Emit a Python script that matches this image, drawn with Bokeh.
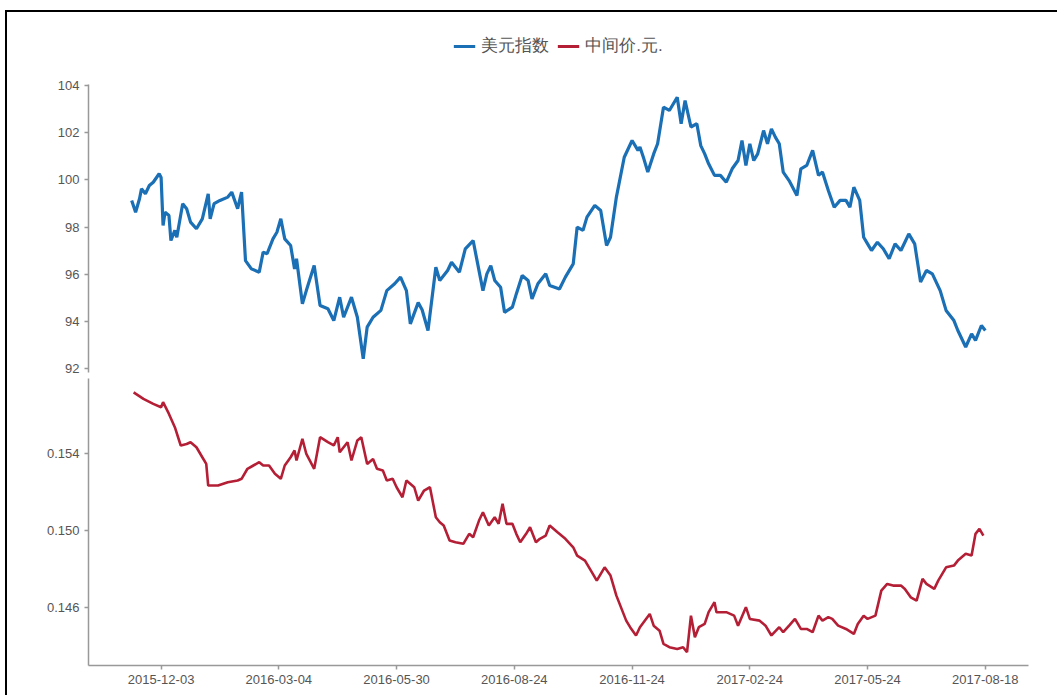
from bokeh.plotting import figure
from bokeh.models import (FixedTicker, Legend, LegendItem, NumeralTickFormatter, Range1d)
from bokeh.layouts import column
from bokeh.embed import file_html
from bokeh.resources import INLINE

# x = trading-day index; tick labels every 60 trading days
tick_idx = [15, 75, 135, 195, 255, 315, 375, 435]
tick_labels = ["2015-12-03", "2016-03-04", "2016-05-30", "2016-08-24",
               "2016-11-24", "2017-02-24", "2017-05-24", "2017-08-18"]

usd_idx = [0, 2, 4, 5, 7, 9, 11, 14, 15, 16, 17, 19, 20, 22, 23, 26, 28, 30, 33, 36,
           39, 40, 42, 45, 49, 51, 54, 56, 58, 61, 65, 67, 69, 72, 74, 76, 78, 81, 83, 84,
           87, 89, 93, 96, 100, 103, 106, 108, 112, 115, 118, 120, 123, 127, 130, 134, 137, 140, 142, 146,
           148, 151, 155, 157, 161, 163, 167, 170, 174, 176, 179, 181, 183, 185, 188, 190, 194, 196, 199, 202,
           204, 207, 211, 213, 218, 221, 225, 227, 230, 232, 236, 239, 242, 244, 247, 251, 255, 258, 259, 261,
           263, 266, 268, 271, 274, 278, 280, 282, 285, 288, 290, 292, 294, 297, 300, 303, 306, 309, 311, 313,
           315, 317, 319, 322, 324, 326, 328, 330, 332, 335, 339, 341, 344, 347, 350, 352, 355, 358, 361, 364,
           366, 368, 371, 373, 375, 377, 380, 383, 386, 389, 392, 394, 396, 399, 402, 405, 408, 412, 415, 419,
           421, 425, 428, 430, 433, 435]
usd_val = [99.13, 98.63, 99.2, 99.62, 99.41, 99.76, 99.9, 100.26, 100.1, 98.07, 98.63, 98.49, 97.43, 97.86, 97.57, 98.99, 98.78, 98.21, 97.93, 98.35,
           99.41, 98.35, 98.99, 99.13, 99.27, 99.48, 98.78, 99.48, 96.58, 96.23, 96.09, 96.94, 96.87, 97.5, 97.78, 98.35, 97.5, 97.22, 96.23, 96.66,
           94.75, 95.31, 96.37, 94.68, 94.54, 94.04, 95.03, 94.18, 95.03, 94.18, 92.42, 93.76, 94.18, 94.47, 95.31, 95.6, 95.88, 95.31, 93.9, 94.8,
           94.5, 93.62, 96.3, 95.74, 96.16, 96.51, 96.09, 97.08, 97.43, 96.58, 95.31, 96.02, 96.37, 95.74, 95.45, 94.39, 94.61, 95.17, 95.95, 95.74,
           94.96, 95.6, 96.02, 95.53, 95.38, 95.88, 96.44, 98.0, 97.86, 98.42, 98.92, 98.7, 97.22, 97.57, 99.27, 100.96, 101.67, 101.25, 101.39, 100.89,
           100.33, 101.1, 101.53, 103.08, 102.94, 103.5, 102.38, 103.36, 102.24, 102.38, 101.45, 101.1, 100.68, 100.19, 100.19, 99.9, 100.47, 100.82, 101.67, 100.61,
           101.53, 100.82, 101.1, 102.09, 101.53, 102.16, 101.81, 101.53, 100.33, 99.97, 99.34, 100.47, 100.61, 101.25, 100.19, 100.33, 99.55, 98.84, 99.13, 99.13,
           98.84, 99.69, 99.13, 97.57, 97.29, 97.01, 97.36, 97.08, 96.66, 97.29, 97.01, 97.36, 97.71, 97.29, 95.67, 96.16, 96.02, 95.31, 94.47, 94.04,
           93.62, 92.92, 93.48, 93.2, 93.83, 93.62]

cny_idx = [1, 6, 11, 15, 16, 19, 22, 25, 28, 30, 33, 36, 38, 39, 44, 49, 54, 56, 59, 62,
           65, 67, 70, 73, 76, 78, 81, 83, 84, 87, 89, 93, 96, 100, 103, 105, 106, 110, 112, 115,
           117, 120, 123, 125, 128, 130, 133, 135, 138, 140, 144, 146, 149, 152, 155, 157, 159, 162, 165, 169,
           172, 174, 177, 179, 182, 185, 187, 189, 191, 194, 196, 198, 201, 203, 206, 208, 211, 213, 217, 221,
           225, 227, 231, 235, 237, 241, 244, 247, 252, 254, 257, 259, 264, 266, 269, 271, 274, 278, 281, 283,
           285, 287, 289, 292, 294, 297, 298, 303, 307, 309, 313, 315, 320, 323, 326, 330, 332, 335, 338, 341,
           344, 347, 350, 352, 355, 357, 360, 364, 368, 370, 373, 375, 379, 382, 385, 388, 392, 394, 397, 400,
           403, 405, 409, 411, 415, 419, 421, 425, 428, 430, 432, 434]
cny_val = [0.15718, 0.15684, 0.15658, 0.15641, 0.15667, 0.15606, 0.15537, 0.15442, 0.15450, 0.15459, 0.15433, 0.15381, 0.15346, 0.15234, 0.15234, 0.15251, 0.15260, 0.15269, 0.15321, 0.15338,
           0.15355, 0.15338, 0.15338, 0.15295, 0.15269, 0.15338, 0.15381, 0.15416, 0.15364, 0.15476, 0.15398, 0.15321, 0.15485, 0.15459, 0.15442, 0.15485, 0.15407, 0.15459, 0.15364, 0.15468,
           0.15485, 0.15346, 0.15372, 0.15321, 0.15312, 0.15260, 0.15269, 0.15225, 0.15173, 0.15260, 0.15225, 0.15156, 0.15208, 0.15225, 0.15069, 0.15043, 0.15026, 0.14948, 0.14939, 0.14931,
           0.14983, 0.14965, 0.15052, 0.15095, 0.15026, 0.15069, 0.15035, 0.15139, 0.15035, 0.15035, 0.14983, 0.14939, 0.14983, 0.15017, 0.14939, 0.14957, 0.14974, 0.15026, 0.14991, 0.14957,
           0.14913, 0.14870, 0.14844, 0.14775, 0.14740, 0.14809, 0.14766, 0.14662, 0.14532, 0.14498, 0.14455, 0.14498, 0.14567, 0.14506, 0.14480, 0.14411, 0.14394, 0.14385, 0.14394, 0.14368,
           0.14558, 0.14446, 0.14498, 0.14515, 0.14576, 0.14628, 0.14576, 0.14576, 0.14558, 0.14506, 0.14602, 0.14541, 0.14532, 0.14506, 0.14455, 0.14498, 0.14472, 0.14506, 0.14541, 0.14489,
           0.14489, 0.14472, 0.14558, 0.14532, 0.14550, 0.14541, 0.14506, 0.14489, 0.14463, 0.14515, 0.14558, 0.14541, 0.14558, 0.14688, 0.14723, 0.14714, 0.14714, 0.14697, 0.14653, 0.14636,
           0.14749, 0.14723, 0.14697, 0.14740, 0.14809, 0.14818, 0.14844, 0.14879, 0.14870, 0.14983, 0.15009, 0.14974]

usd_ticks = [92, 94, 96, 98, 100, 102, 104]
cny_ticks = [0.146, 0.150, 0.154]
series_names = ["美元指数", "中间价.元."]

BLUE = "#1a6fb5"
RED = "#b51f36"
FONT = "Liberation Sans"
LABEL_COLOR = "#555555"
AXIS_COLOR = "#999999"

x_range = Range1d(-22, 457)


def style_axis(ax):
    ax.axis_line_color = AXIS_COLOR
    ax.axis_line_width = 1.5
    ax.major_tick_line_color = AXIS_COLOR
    ax.major_tick_line_width = 1.5
    ax.major_tick_out = 4
    ax.major_tick_in = 0
    ax.minor_tick_line_color = None
    ax.major_label_text_font = FONT
    ax.major_label_text_font_size = "13px"
    ax.major_label_text_color = LABEL_COLOR


# top panel: frame extends up to hold the legend; axis line bounded to the data band
top = figure(width=1050, height=363, x_range=x_range, y_range=Range1d(91.84, 107.09),
             output_backend="svg", toolbar_location=None,
             min_border_left=81, min_border_right=29, min_border_top=0, min_border_bottom=3)
top.xaxis.visible = False
top.grid.visible = False
top.outline_line_color = None
top.yaxis.ticker = FixedTicker(ticks=usd_ticks)
style_axis(top.yaxis[0])
top.yaxis.bounds = (91.84, 104.04)

l1 = top.line(usd_idx, usd_val, line_color=BLUE, line_width=3.2)
# legend proxy for the red series (draws nothing in this panel)
l2_proxy = top.line([0], [float("nan")], line_color=RED, line_width=3.2)

legend = Legend(items=[LegendItem(label=series_names[0], renderers=[l1]),
                       LegendItem(label=series_names[1], renderers=[l2_proxy])],
                orientation="horizontal", location="top_center",
                label_text_font=FONT, label_text_font_size="17px", label_text_color=LABEL_COLOR,
                border_line_color=None, background_fill_alpha=0,
                glyph_width=22, label_standoff=6, spacing=8, padding=4, margin=22)
top.add_layout(legend, "center")

bot = figure(width=1050, height=320, x_range=x_range, y_range=Range1d(0.14299, 0.15790),
             output_backend="svg", toolbar_location=None,
             min_border_left=81, min_border_right=29, min_border_top=3, min_border_bottom=30)
bot.grid.visible = False
bot.outline_line_color = None
bot.yaxis.ticker = FixedTicker(ticks=cny_ticks)
bot.yaxis.formatter = NumeralTickFormatter(format="0.000")
bot.xaxis.ticker = FixedTicker(ticks=tick_idx)
bot.xaxis.major_label_overrides = {t: s for t, s in zip(tick_idx, tick_labels)}
style_axis(bot.yaxis[0])
style_axis(bot.xaxis[0])
bot.xaxis.major_label_standoff = 5

l2 = bot.line(cny_idx, cny_val, line_color=RED, line_width=2.6)

layout = column(top, bot, spacing=0, margin=(10, 0, 0, 5),
                styles={"border-top": "2px solid black", "border-left": "2px solid black"})

open("out.html", "w").write(file_html(layout, INLINE))
